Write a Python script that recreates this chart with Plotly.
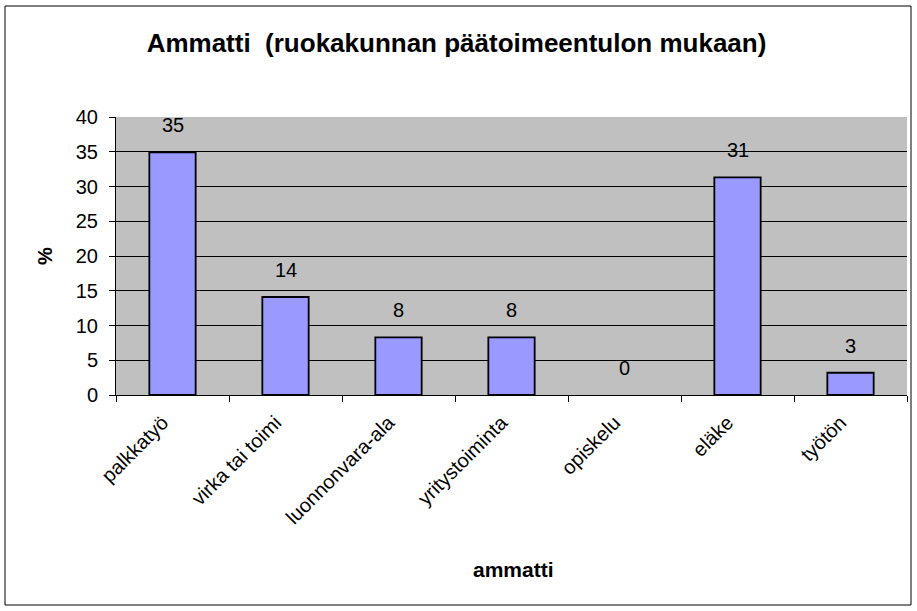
import plotly.graph_objects as go

categories = ["palkkatyö", "virka tai toimi", "luonnonvara-ala", "yritystoiminta",
              "opiskelu", "eläke", "työtön"]
values = [34.9, 14.1, 8.3, 8.3, 0.0, 31.3, 3.2]
labels = ["35", "14", "8", "8", "0", "31", "3"]
y_ticks = [0, 5, 10, 15, 20, 25, 30, 35, 40]

FONT = "Liberation Sans, Arial, sans-serif"

W, H = 917, 611
ml, mr, mt, mb = 116, 10, 117, 216
pw = W - ml - mr
ph = H - mt - mb

def px_x(x):
    return (x - ml) / pw

def px_y(y):
    return (H - mb - y) / ph

fig = go.Figure()
fig.add_trace(go.Bar(
    x=categories, y=values,
    marker=dict(color="#9999FF",
                line=dict(color="black", width=[1.8 if v > 0 else 0 for v in values])),
    width=0.41,
    hoverinfo="x+y",
))

annotations = []
for c, v, t in zip(categories, values, labels):
    annotations.append(dict(x=c, y=v, xref="x", yref="y", text=t, showarrow=False,
                            yanchor="middle", yshift=27,
                            font=dict(family=FONT, size=20, color="black")))
annotations.append(dict(x=px_x(45), y=0.5, xref="paper", yref="paper", text="<b>%</b>",
                        textangle=-90, showarrow=False, xanchor="center", yanchor="middle",
                        font=dict(family=FONT, size=20, color="black")))
annotations.append(dict(x=px_x(513) , y=px_y(569), xref="paper", yref="paper", text="<b>ammatti</b>",
                        showarrow=False, xanchor="center", yanchor="middle",
                        font=dict(family=FONT, size=21, color="black")))

fig.update_layout(
    width=W, height=H,
    margin=dict(l=ml, r=mr, t=mt, b=mb),
    paper_bgcolor="white",
    plot_bgcolor="#C0C0C0",
    showlegend=False,
    title=dict(text="<b>Ammatti  (ruokakunnan päätoimeentulon mukaan)</b>",
               x=456.5 / W, xref="container", y=1 - 43 / H, yref="container",
               xanchor="center", yanchor="middle",
               font=dict(family=FONT, size=26, color="black")),
    annotations=annotations,
    shapes=[dict(type="rect", xref="paper", yref="paper",
                 x0=px_x(5), x1=px_x(911), y0=px_y(605), y1=px_y(6),
                 line=dict(color="black", width=1), fillcolor="rgba(0,0,0,0)",
                 layer="below")],
    bargap=0.59,
)

fig.update_xaxes(
    type="category",
    tickangle=-45,
    ticks="outside", ticklen=6, tickcolor="black", tickwidth=1,
    tickson="boundaries",
    ticklabelstandoff=7, ticklabelshift=-10,
    showline=True, linecolor="black", linewidth=1,
    showgrid=False,
    tickfont=dict(family=FONT, size=20, color="black"),
)
fig.update_yaxes(
    range=[0, 40],
    tickvals=y_ticks,
    ticks="outside", ticklen=6, tickcolor="black", tickwidth=1,
    ticklabelstandoff=7,
    showline=True, linecolor="black", linewidth=1,
    showgrid=True, gridcolor="black", gridwidth=1,
    zeroline=False,
    tickfont=dict(family=FONT, size=20, color="black"),
)

fig.write_html("out.html", config={"displayModeBar": False},
               post_script="document.body.style.margin='0';")
